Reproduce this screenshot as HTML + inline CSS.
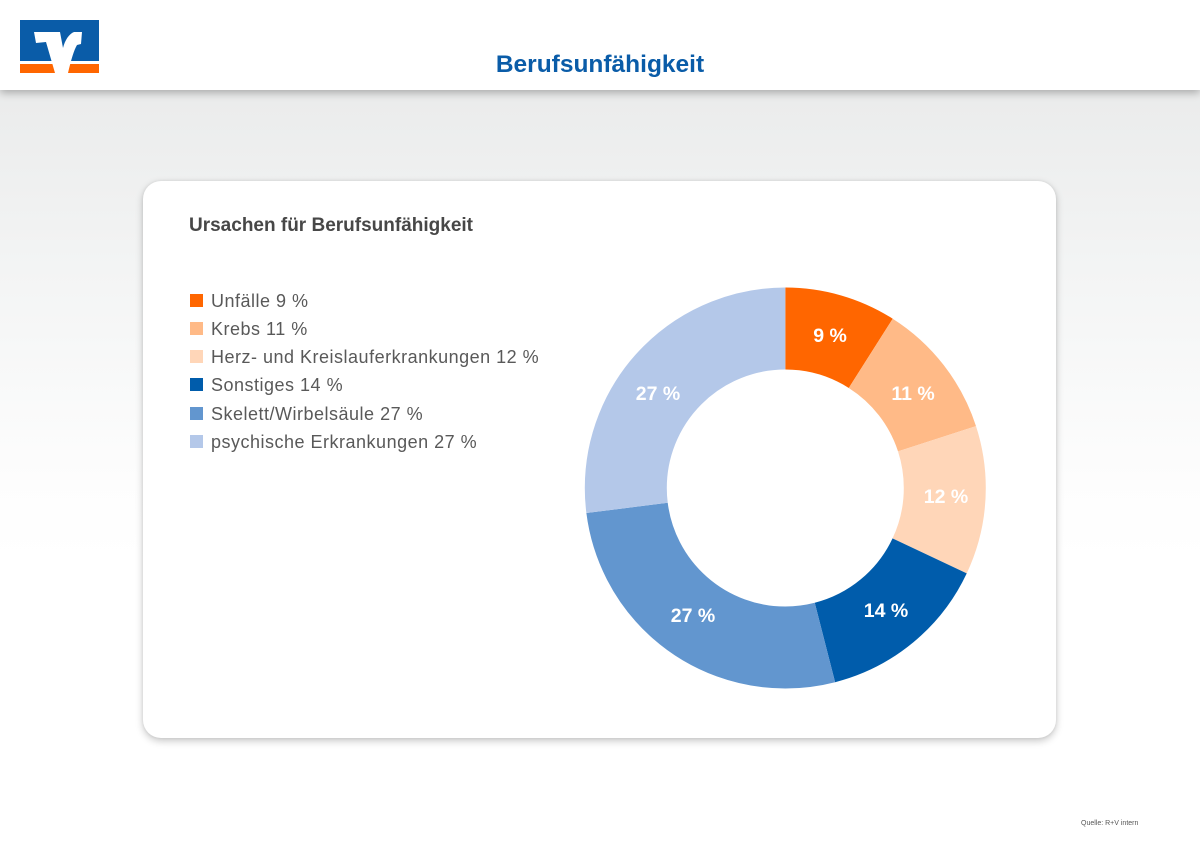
<!DOCTYPE html>
<html><head><meta charset="utf-8">
<style>
html,body{margin:0;padding:0;}
body{width:1200px;height:849px;position:relative;overflow:hidden;
background:linear-gradient(to bottom,#ebecec 0px,#ebecec 100px,#f6f7f7 330px,#fdfdfd 480px,#ffffff 560px,#ffffff 849px);
font-family:"Liberation Sans",sans-serif;}
.header{position:absolute;left:0;top:0;width:1200px;height:90px;background:#fff;box-shadow:0 3px 8px rgba(0,0,0,0.28);z-index:2;}
.title{position:absolute;left:0;width:1200px;top:50px;text-align:center;font-weight:bold;font-size:24.5px;color:#0a5ca8;line-height:30px;}
.card{position:absolute;left:143px;top:181px;width:913px;height:557px;background:#fff;border-radius:18px;box-shadow:0 3px 8px rgba(0,0,0,0.22),0 0 3px rgba(0,0,0,0.08);}
.ctitle{position:absolute;left:189px;top:215px;font-weight:bold;font-size:19px;color:#474747;line-height:22px;white-space:nowrap;}
.leg{position:absolute;left:190px;height:14px;white-space:nowrap;}
.leg i{position:absolute;left:0;top:0;width:13px;height:13px;}
.leg span{position:absolute;left:21px;top:-4px;font-size:18px;letter-spacing:0.5px;color:#595959;line-height:22px;}
.src{position:absolute;left:1081px;top:820px;font-size:7px;color:#555;white-space:nowrap;}
svg{position:absolute;left:0;top:0;}
</style></head><body>
<div class="header">
<svg width="120" height="90" viewBox="0 0 120 90">
<rect x="20" y="20" width="79" height="41" fill="#0a5ca8"/>
<rect x="20" y="64" width="79" height="9" fill="#ff6600"/>
<path d="M34,32 L60,32 L63,48 C65,40 69,34 74,32 L82,32 L81,44 L77,45 C74,50 71,60 68,73 L55,73 L46,42 L36,43 Z" fill="#fff"/>
</svg>
<div class="title">Berufsunfähigkeit</div>
</div>
<div class="card"></div>
<div class="ctitle">Ursachen für Berufsunfähigkeit</div>

<div class="leg" style="top:294px"><i style="background:#ff6600"></i><span>Unfälle 9 %</span></div>
<div class="leg" style="top:322px"><i style="background:#ffba87"></i><span>Krebs 11 %</span></div>
<div class="leg" style="top:350px"><i style="background:#ffd6b8"></i><span>Herz- und Kreislauferkrankungen 12 %</span></div>
<div class="leg" style="top:378px"><i style="background:#005cab"></i><span>Sonstiges 14 %</span></div>
<div class="leg" style="top:407px"><i style="background:#6296cf"></i><span>Skelett/Wirbelsäule 27 %</span></div>
<div class="leg" style="top:435px"><i style="background:#b4c8e9"></i><span>psychische Erkrankungen 27 %</span></div>

<svg width="1200" height="849" viewBox="0 0 1200 849">
<g transform="translate(785.3,488) rotate(-90)" fill="none" stroke-width="82">
<circle r="159.5" pathLength="100" stroke="#ff6600" stroke-dasharray="9 91" stroke-dashoffset="0"/>
<circle r="159.5" pathLength="100" stroke="#ffba87" stroke-dasharray="11 89" stroke-dashoffset="-9"/>
<circle r="159.5" pathLength="100" stroke="#ffd6b8" stroke-dasharray="12 88" stroke-dashoffset="-20"/>
<circle r="159.5" pathLength="100" stroke="#005cab" stroke-dasharray="14 86" stroke-dashoffset="-32"/>
<circle r="159.5" pathLength="100" stroke="#6296cf" stroke-dasharray="27 73" stroke-dashoffset="-46"/>
<circle r="159.5" pathLength="100" stroke="#b4c8e9" stroke-dasharray="27 73" stroke-dashoffset="-73"/>
</g>
<g font-family="Liberation Sans, sans-serif" font-weight="bold" font-size="19.5" fill="#fff" text-anchor="middle">
<text x="830" y="342">9 %</text>
<text x="913" y="400">11 %</text>
<text x="946" y="503">12 %</text>
<text x="886" y="617">14 %</text>
<text x="693" y="622">27 %</text>
<text x="658" y="400">27 %</text>
</g>
</svg>
<div class="src">Quelle: R+V intern</div>
</body></html>
